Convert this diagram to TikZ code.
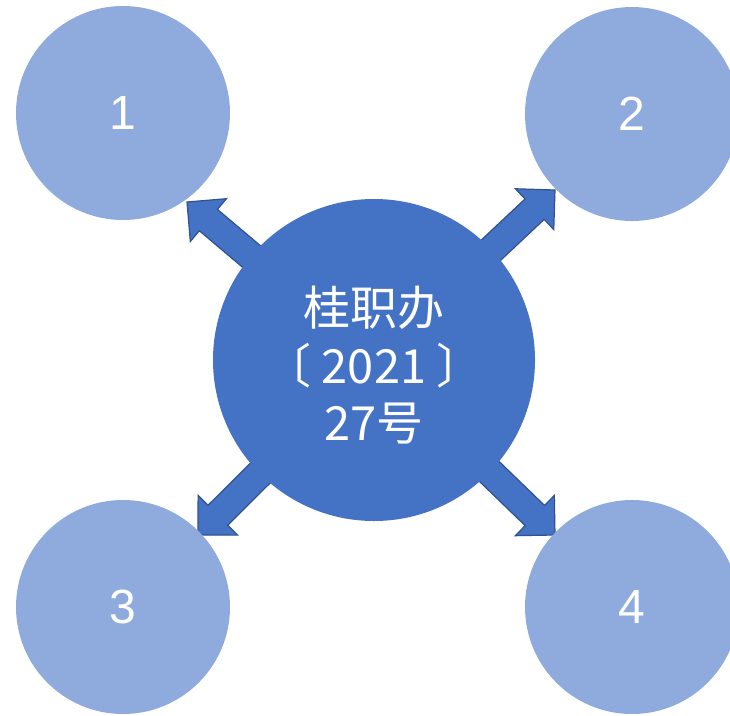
\documentclass[tikz,border=0pt]{standalone}
\usepackage{fontspec}
\setmainfont{Liberation Sans}
\newfontfamily\cjk{Noto Sans CJK SC}
\usetikzlibrary{calc,backgrounds}
\definecolor{mainblue}{HTML}{4472C4}
\definecolor{paleblue}{HTML}{8FAADC}
\definecolor{rimblue}{HTML}{2F528F}

\begin{document}
\begin{tikzpicture}
            [x=1pt,y=-1pt,every node/.style={circle,inner sep=0pt,text=white},
             small/.style={fill=paleblue,minimum size=214pt,font=\fontsize{48}{48}\selectfont},
             big/.style={fill=mainblue,minimum size=322pt,align=center,font=\cjk\fontsize{47}{57.5}\selectfont},
             fat/.style={fill=mainblue,draw=rimblue,line width=1.2pt,
               to path={($(\tikztostart)!14pt!90:(\tikztotarget)$)
                 -- ($(\tikztotarget)!28pt!(\tikztostart)!14pt!-90:(\tikztostart)$)
                 -- ($(\tikztotarget)!28pt!(\tikztostart)!28pt!-90:(\tikztostart)$)
                 -- (\tikztotarget)
                 -- ($(\tikztotarget)!28pt!(\tikztostart)!28pt!90:(\tikztostart)$)
                 -- ($(\tikztotarget)!28pt!(\tikztostart)!14pt!90:(\tikztostart)$)
                 -- ($(\tikztostart)!14pt!-90:(\tikztotarget)$) -- cycle}}]
            \useasboundingbox (0,0) rectangle (730,715);
            \node[big] (C) at (374,360) {\rule{0pt}{50pt}桂职办\\〔 2021 〕\\27号};
            \node[small] (N1) at (123,113) {1};
            \node[small] (N2) at (632,114) {2};
            \node[small] (N3) at (123,607) {3};
            \node[small] (N4) at (632,607) {4};

            % arrow tips
            \coordinate (T1) at (187,202);
            \coordinate (T2) at (555,190);
            \coordinate (T3) at (198,535);
            \coordinate (T4) at (555,535);

            % arrows behind the circles
            \begin{scope}[on background layer]
            \draw[fat] (C) to (T1);
            \draw[fat] (C) to (T2);
            \draw[fat] (C) to (T3);
            \draw[fat] (C) to (T4);
            \end{scope}
        \end{tikzpicture}
\end{document}
